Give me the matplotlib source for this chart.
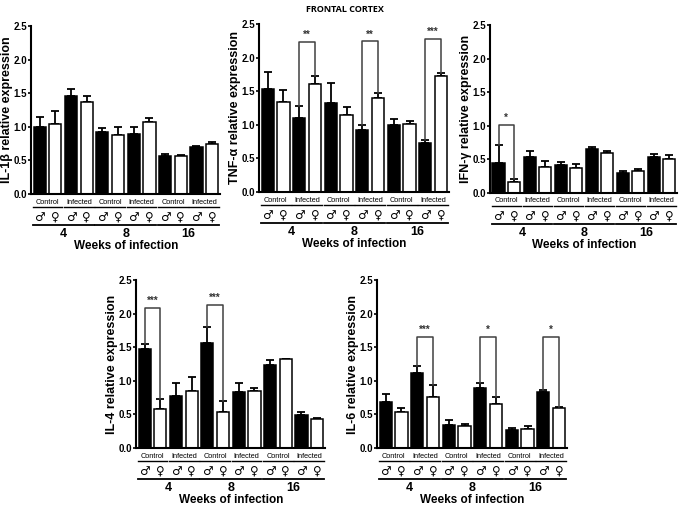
"""
Frontal cortex cytokine expression, five bar panels.
"""

import matplotlib
matplotlib.use('Agg')
import matplotlib.pyplot as plt  # pylint: disable=import-error

plt.rcParams['font.family'] = ['Liberation Sans', 'DejaVu Sans']
plt.rcParams['font.weight'] = 'bold'

weeks = ['4', '8', '16']
groups = ['Control', 'Infected']
sexes = ['\u2642', '\u2640']

il1b_mean = [1.00, 1.04, 1.46, 1.37, 0.92, 0.88, 0.89, 1.07, 0.57, 0.56, 0.70, 0.75]
il1b_sem = [0.14, 0.20, 0.10, 0.09, 0.06, 0.11, 0.11, 0.06, 0.03, 0.02, 0.01, 0.03]

tnf_mean = [1.54, 1.34, 1.10, 1.60, 1.33, 1.15, 0.93, 1.40, 1.00, 1.01, 0.73, 1.73]
tnf_sem = [0.25, 0.18, 0.18, 0.12, 0.29, 0.11, 0.06, 0.07, 0.09, 0.05, 0.04, 0.04]

ifn_mean = [0.44, 0.17, 0.54, 0.38, 0.42, 0.37, 0.66, 0.60, 0.30, 0.32, 0.53, 0.51]
ifn_sem = [0.28, 0.04, 0.09, 0.10, 0.04, 0.06, 0.03, 0.02, 0.02, 0.03, 0.05, 0.05]

il4_mean = [1.48, 0.58, 0.77, 0.85, 1.56, 0.54, 0.84, 0.85, 1.24, 1.32, 0.49, 0.43]
il4_sem = [0.07, 0.15, 0.19, 0.20, 0.24, 0.16, 0.13, 0.05, 0.07, 0.01, 0.04, 0.01]

il6_mean = [0.68, 0.54, 1.11, 0.76, 0.34, 0.32, 0.89, 0.66, 0.27, 0.28, 0.83, 0.60]
il6_sem = [0.13, 0.05, 0.11, 0.18, 0.08, 0.04, 0.07, 0.10, 0.03, 0.04, 0.04, 0.01]

# (bar i, bar j, bracket height, stars)
tnf_sig = [(2, 3, 2.23, '**'), (6, 7, 2.24, '**'), (10, 11, 2.28, '***')]
ifn_sig = [(0, 1, 1.01, '*')]
il4_sig = [(0, 1, 2.09, '***'), (4, 5, 2.13, '***')]
il6_sig = [(2, 3, 1.65, '***'), (6, 7, 1.65, '*'), (10, 11, 1.65, '*')]

FIG_W, FIG_H = 679, 511
AX_H = 168


def px_axes(fig, left, bottom, width):
    """axes placed in pixel coordinates (bottom measured from top)"""
    return fig.add_axes([left / FIG_W, 1 - bottom / FIG_H,
                         width / FIG_W, AX_H / FIG_H])


def draw_panel(ax, mean, sem, ylabel, sig, width):
    """one GraphPad style bar panel"""
    xs = list(range(len(mean)))
    colors = ['black' if i % 2 == 0 else 'white' for i in xs]
    ax.bar(xs, mean, width=0.78, color=colors, edgecolor='black', linewidth=1.1, zorder=2)
    ax.errorbar(xs, mean, yerr=[[0] * len(sem), sem], fmt='none', ecolor='black',
                elinewidth=1.3, capsize=3, capthick=1.3, zorder=1)

    ax.set_xlim(-0.55, 11.5)
    ax.set_ylim(0, 2.5)
    ax.set_yticks([0, 0.5, 1.0, 1.5, 2.0, 2.5])
    ax.set_yticklabels(['0.0', '0.5', '1.0', '1.5', '2.0', '2.5'], fontsize=7, fontweight='bold')
    ax.set_xticks([])
    ax.tick_params(axis='y', length=2.5, width=1.2, pad=0.5)
    for side in ['top', 'right']:
        ax.spines[side].set_visible(False)
    ax.spines['left'].set_linewidth(1.5)
    ax.spines['bottom'].set_linewidth(1.5)
    ax.set_ylabel(ylabel, fontsize=9, fontweight='bold')
    ax.yaxis.set_label_coords(-18.0 / width, 0.5)

    trans = ax.get_xaxis_transform()
    f = 1.0 / AX_H
    for w, week in enumerate(weeks):
        for g, group in enumerate(groups):
            x0 = w * 4 + g * 2
            ax.text(x0 + 0.5, -8 * f, group, transform=trans, ha='center', va='center',
                    fontsize=5.3, fontweight='normal')
            ax.plot([x0 - 0.45, x0 + 1.45], [-13 * f, -13 * f], transform=trans,
                    color='black', lw=1, clip_on=False)
            for s, sym in enumerate(sexes):
                ax.text(x0 + s, -23 * f, sym, transform=trans, ha='center', va='center',
                        fontsize=8.5, fontweight='normal', family='DejaVu Sans')
        ax.plot([w * 4 - 0.45, w * 4 + 3.45], [-31 * f, -31 * f], transform=trans,
                color='black', lw=1.3, clip_on=False)
        ax.text(w * 4 + 1.5, -40 * f, week, transform=trans, ha='center', va='center',
                fontsize=9, fontweight='bold')
    ax.text(5.5, -52 * f, 'Weeks of infection', transform=trans, ha='center', va='center',
            fontsize=8.5, fontweight='bold')

    for i, j, h, stars in sig:
        ax.plot([i, i, j, j], [mean[i] + sem[i], h, h, mean[j] + sem[j]],
                color='#404040', lw=1.1, zorder=3)
        ax.text((i + j) / 2, h + 0.03, stars, ha='center', va='bottom',
                fontsize=7, fontweight='bold', color='#333333')


def main():
    """build the figure"""
    fig = plt.figure(figsize=(FIG_W / 100, FIG_H / 100), dpi=100)

    ax1 = px_axes(fig, 31, 194, 189)
    draw_panel(ax1, il1b_mean, il1b_sem, 'IL-1\u03b2 relative expression', [], 189)

    ax2 = px_axes(fig, 259, 192, 190)
    draw_panel(ax2, tnf_mean, tnf_sem, 'TNF-\u03b1 relative expression', tnf_sig, 190)

    ax3 = px_axes(fig, 490, 193, 187)
    draw_panel(ax3, ifn_mean, ifn_sem, 'IFN-\u03b3 relative expression', ifn_sig, 187)

    ax4 = px_axes(fig, 136, 448, 189)
    draw_panel(ax4, il4_mean, il4_sem, 'IL-4 relative expression', il4_sig, 189)

    ax5 = px_axes(fig, 377, 448, 190)
    draw_panel(ax5, il6_mean, il6_sem, 'IL-6 relative expression', il6_sig, 190)

    fig.text(345 / FIG_W, 1 - 9 / FIG_H, 'FRONTAL CORTEX', ha='center', va='center',
             fontsize=6.5, fontweight='bold', family='Open Sans')

    fig.savefig('out.png', dpi=100)


if __name__ == "__main__":
    main()
